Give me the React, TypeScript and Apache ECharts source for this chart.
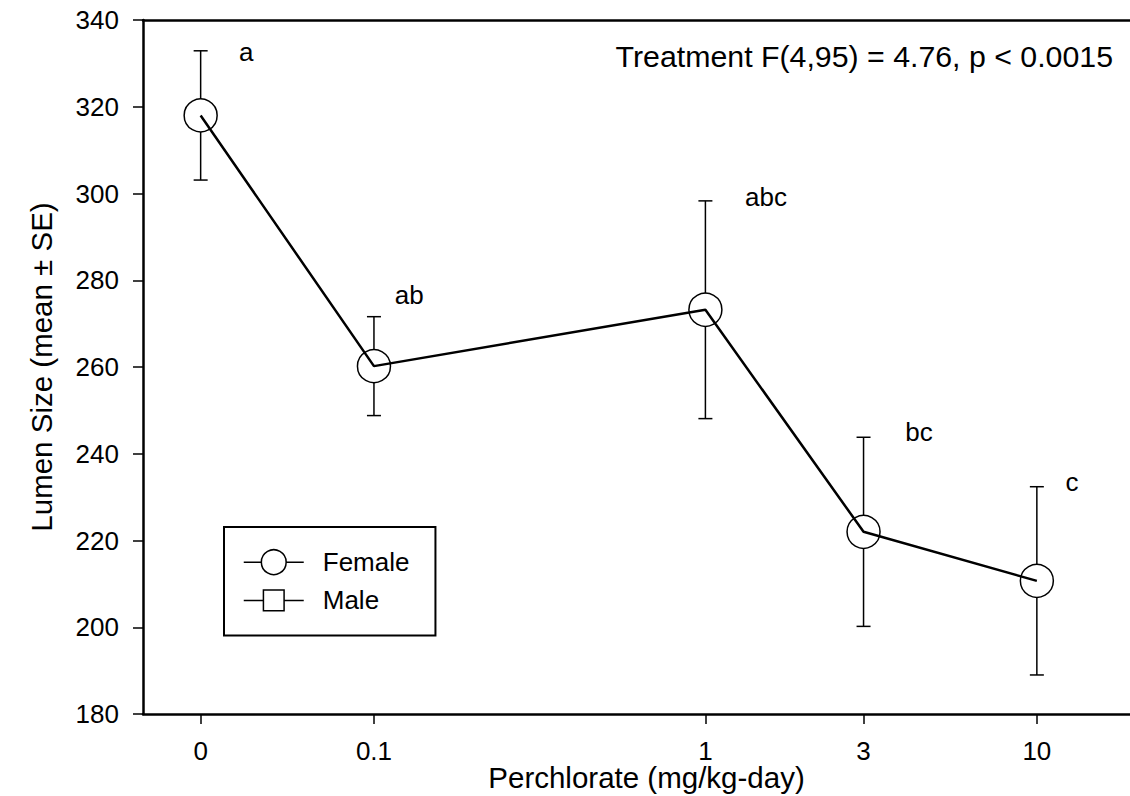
import React, { useEffect, useRef } from "react";
import * as echarts from "echarts";

// ---- data ----
const doseLabels = ["0", "0.1", "1", "3", "10"];
// positions of the doses on the log axis (the control "0" is drawn at 0.03)
const dosePositions = [0.03, 0.1, 1, 3, 10];
const femaleMean = [318.0, 260.2, 273.2, 222.0, 210.7];
const femaleSE = [14.9, 11.4, 25.1, 21.8, 21.7];
const maleMean: number[] = [];
const groupLetters = ["a", "ab", "abc", "bc", "c"];
const letterX = [0.0412, 0.1277, 1.524, 4.41, 12.77];
const letterY = [332.6, 276.6, 299.2, 245.0, 233.6];
const yMin = 180;
const yMax = 340;
const yStep = 20;
const annotation = "Treatment F(4,95) = 4.76, p < 0.0015";
const xTitle = "Perchlorate (mg/kg-day)";
const yTitle = "Lumen Size (mean ± SE)";

const FONT = '"Liberation Sans", Arial, Helvetica, sans-serif';

function labelFor(v: number): string {
  for (let i = 0; i < dosePositions.length; i++) {
    const p = dosePositions[i];
    if (Math.abs(p - v) / p < 1e-4) return doseLabels[i];
    if (Math.abs(Math.log10(p) - v) < 1e-4) return doseLabels[i];
  }
  return "";
}

export default function App() {
  const ref = useRef<HTMLDivElement>(null);
  useEffect(() => {
    if (!ref.current) return;
    const chart = echarts.init(ref.current, undefined, { renderer: "svg" });
    const errData = dosePositions.map((x, i) => [x, femaleMean[i] - femaleSE[i], femaleMean[i] + femaleSE[i]]);
    const meanData = dosePositions.map((x, i) => [x, femaleMean[i]]);
    const letterData = letterX.map((x, i) => [x, letterY[i], i]);
    const option: any = {
      animation: false,
      backgroundColor: "#fff",
      textStyle: { fontFamily: FONT, color: "#000" },
      grid: { left: 143, right: 0, top: 20, bottom: 82, containLabel: false, outerBoundsMode: "none" },
      legend: {
        data: ["Female", "Male"],
        orient: "vertical",
        left: 224,
        top: 527,
        padding: [22, 26, 22, 19],
        itemWidth: 60,
        itemHeight: 31,
        itemGap: 12,
        borderColor: "#000",
        borderWidth: 2,
        selectedMode: false,
        itemStyle: { color: "#fff", borderColor: "#000", borderWidth: 1.5 },
        lineStyle: { color: "#000", width: 1.5 },
        textStyle: { fontSize: 26, color: "#000", fontFamily: FONT, padding: [0, 0, 0, 14] },
      },
      xAxis: [
        {
          type: "log",
          logBase: 10,
          min: 0.0201,
          max: 19.1,
          name: xTitle,
          nameLocation: "middle",
          nameGap: 48,
          nameMoveOverlap: false,
          nameTextStyle: { fontSize: 29.5, color: "#000", fontFamily: FONT, padding: [0, 0, 0, 20] },
          axisLine: { show: true, onZero: false, lineStyle: { color: "#000", width: 2.5 } },
          axisTick: { show: true, inside: false, length: 10, customValues: dosePositions, lineStyle: { color: "#000", width: 1.5 } },
          minorTick: { show: false },
          axisLabel: { show: true, margin: 24, fontSize: 26, color: "#000", fontFamily: FONT, customValues: dosePositions, formatter: (v: number) => labelFor(v) },
          splitLine: { show: false },
          minorSplitLine: { show: false },
        },
        {
          type: "value",
          position: "top",
          min: 0,
          max: 1,
          axisLine: { show: true, onZero: false, lineStyle: { color: "#000", width: 2.5 } },
          axisTick: { show: false },
          axisLabel: { show: false },
          splitLine: { show: false },
        },
      ],
      yAxis: {
        type: "value",
        min: yMin,
        max: yMax,
        interval: yStep,
        name: yTitle,
        nameLocation: "middle",
        nameGap: 87,
        nameMoveOverlap: false,
        nameTextStyle: { fontSize: 29.5, color: "#000", fontFamily: FONT },
        axisLine: { show: true, onZero: false, lineStyle: { color: "#000", width: 2.5 } },
        axisTick: { show: true, inside: false, length: 10, lineStyle: { color: "#000", width: 1.5 } },
        axisLabel: { margin: 24, fontSize: 26, color: "#000", fontFamily: FONT },
        splitLine: { show: false },
      },
      graphic: [
        {
          type: "text",
          x: 1113,
          y: 56,
          style: {
            text: annotation,
            fontSize: 30.3,
            fontFamily: FONT,
            fill: "#000",
            align: "right",
            textAlign: "right",
            verticalAlign: "middle",
            textVerticalAlign: "middle",
          },
        },
      ],
      series: [
        {
          name: "Female",
          type: "line",
          data: meanData,
          symbol: "circle",
          showSymbol: false,
          symbolSize: 33,
          z: 5,
          lineStyle: { color: "#000", width: 2.5 },
          itemStyle: { color: "#fff", borderColor: "#000", borderWidth: 1.5 },
          emphasis: { disabled: true },
        },
        {
          name: "Male",
          type: "line",
          data: maleMean,
          symbol: "path://M0,0M24,24M2,2h20v20h-20z",
          symbolSize: 25,
          lineStyle: { color: "#000", width: 1.5 },
          itemStyle: { color: "#fff", borderColor: "#000", borderWidth: 1.5 },
        },
        {
          name: "Female markers",
          type: "scatter",
          data: meanData,
          symbol: "circle",
          symbolSize: 33,
          z: 4,
          itemStyle: { color: "#fff", borderColor: "#000", borderWidth: 1.5, opacity: 1 },
          emphasis: { disabled: true },
        },
        {
          name: "Female SE",
          type: "custom",
          data: errData,
          encode: { x: 0, y: [1, 2] },
          z: 3,
          renderItem: (params: any, api: any) => {
            const x = api.value(0);
            const lo = api.coord([x, api.value(1)]);
            const hi = api.coord([x, api.value(2)]);
            const hw = 7;
            const st = { stroke: "#000", lineWidth: 1.5 };
            return {
              type: "group",
              children: [
                { type: "line", shape: { x1: lo[0], y1: lo[1], x2: hi[0], y2: hi[1] }, style: st },
                { type: "line", shape: { x1: hi[0] - hw, y1: hi[1], x2: hi[0] + hw, y2: hi[1] }, style: st },
                { type: "line", shape: { x1: lo[0] - hw, y1: lo[1], x2: lo[0] + hw, y2: lo[1] }, style: st },
              ],
            };
          },
        },
        {
          name: "Group letters",
          type: "custom",
          data: letterData,
          encode: { x: 0, y: 1 },
          z: 6,
          renderItem: (params: any, api: any) => {
            const p = api.coord([api.value(0), api.value(1)]);
            return {
              type: "text",
              x: p[0],
              y: p[1],
              style: {
                text: groupLetters[api.value(2)],
                fontSize: 26,
                fontFamily: FONT,
                fill: "#000",
                align: "center",
                verticalAlign: "middle",
              },
            };
          },
        },
      ],
    };
    chart.setOption(option);
    return () => chart.dispose();
  }, []);
  return <div ref={ref} style={{ position: "absolute", left: 0, top: 0, width: 1130, height: 796 }} />;
}
